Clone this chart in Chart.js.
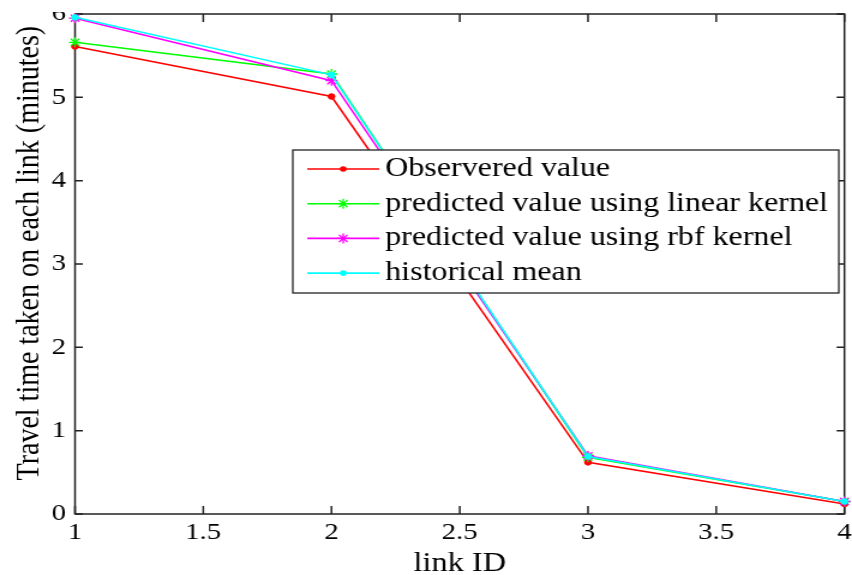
<!DOCTYPE html>
<html>
<head>
<meta charset="utf-8">
<script src="https://cdn.jsdelivr.net/npm/chart.js@4.4.1/dist/chart.umd.min.js"></script>
<style>
html, body { margin: 0; padding: 0; background: #fff; }
#frame { position: relative; width: 852px; height: 575px; overflow: hidden; background: #fff; }
/* the original figure is stretched sideways, so the canvas is too */
#stretch { position: absolute; left: 0; top: -11px; width: 710px; height: 586px; transform: scaleX(1.2); transform-origin: 0 0; }
/* the source image is cropped just above the plot box */
#crop { position: absolute; left: 0; top: 0; width: 73px; height: 12px; background: #fff; }
#fontwarm { position: absolute; left: -999px; top: 0; font-family: "Liberation Serif"; font-size: 24px; }
</style>
</head>
<body>
<div id="frame"><div id="stretch"><canvas id="lineChart" width="710" height="586"></canvas></div><div id="crop"></div></div>
<div id="fontwarm">link ID 0123456789.</div>
<script>
// data
const linkIds = [1, 2, 3, 4];
const observed = [5.61, 5.01, 0.62, 0.12];
const predLinear = [5.66, 5.28, 0.68, 0.15];
const predRbf = [5.95, 5.20, 0.70, 0.15];
const histMean = [5.96, 5.27, 0.69, 0.15];
const seriesNames = ['Observered value', 'predicted value using linear kernel', 'predicted value using rbf kernel', 'historical mean'];
const seriesColors = ['#ff0000', '#00ff00', '#ff00ff', '#00ffff'];
const seriesMarkers = ['circle', 'star', 'star', 'circle'];
const xTitle = 'link ID';
const yTitle = 'Travel time taken on each link (minutes)';

const FONT = 'Liberation Serif';

function toPoints(vals) {
    return linkIds.map(function (id, i) { return { x: id, y: vals[i] }; });
}

let allSeries = [observed, predLinear, predRbf, histMean];
let datasets = [];
for (let i = 0; i < allSeries.length; i++) {
    let star = seriesMarkers[i] == 'star';
    datasets.push({
        label: seriesNames[i],
        data: toPoints(allSeries[i]),
        borderColor: seriesColors[i],
        backgroundColor: seriesColors[i],
        pointBorderColor: seriesColors[i],
        pointBackgroundColor: seriesColors[i],
        pointStyle: seriesMarkers[i],
        pointRadius: star ? 5 : 2.8,
        pointBorderWidth: star ? 1.3 : 1,
        borderWidth: 1.6,
        tension: 0,
        fill: false,
        clip: false,
        order: allSeries.length - i
    });
}

// box round the axes with inward ticks on all four sides, plus the y title
const axesBox = {
    id: 'axesBox',
    beforeDatasetsDraw(chart) {
        const ctx = chart.ctx;
        const a = chart.chartArea;
        const xs = chart.scales.x, ys = chart.scales.y;
        ctx.save();
        ctx.strokeStyle = '#222';
        ctx.lineWidth = 1.5;
        ctx.strokeRect(a.left, a.top, a.right - a.left, a.bottom - a.top);
        ctx.beginPath();
        xs.ticks.forEach(function (t) {
            let px = xs.getPixelForValue(t.value);
            ctx.moveTo(px, a.bottom); ctx.lineTo(px, a.bottom - 8);
            ctx.moveTo(px, a.top); ctx.lineTo(px, a.top + 8);
        });
        ys.ticks.forEach(function (t) {
            let py = ys.getPixelForValue(t.value);
            ctx.moveTo(a.left, py); ctx.lineTo(a.left + 6.5, py);
            ctx.moveTo(a.right, py); ctx.lineTo(a.right - 6.5, py);
        });
        ctx.stroke();

        // y title sits a bit above the middle of the axis in the original
        ctx.translate(25, ys.getPixelForValue(3.13));
        ctx.rotate(-Math.PI / 2);
        ctx.fillStyle = '#000';
        ctx.font = '28px ' + FONT;
        ctx.textAlign = 'center';
        ctx.textBaseline = 'middle';
        ctx.fillText(yTitle, 0, 0);
        ctx.restore();
    }
};

function drawMarker(ctx, style, color, x, y) {
    ctx.strokeStyle = color;
    ctx.fillStyle = color;
    if (style == 'star') {
        let r = 5;
        ctx.lineWidth = 1.3;
        ctx.beginPath();
        ctx.moveTo(x - r, y); ctx.lineTo(x + r, y);
        ctx.moveTo(x, y - r); ctx.lineTo(x, y + r);
        let d = r * 0.707;
        ctx.moveTo(x - d, y - d); ctx.lineTo(x + d, y + d);
        ctx.moveTo(x - d, y + d); ctx.lineTo(x + d, y - d);
        ctx.stroke();
    } else {
        ctx.beginPath();
        ctx.arc(x, y, 2.8, 0, Math.PI * 2);
        ctx.fill();
    }
}

// matlab style legend inside the plot
const legendBox = {
    id: 'legendBox',
    afterDraw(chart) {
        const ctx = chart.ctx;
        const bx = 244, by = 161, bw = 455, bh = 143;
        ctx.save();
        ctx.fillStyle = '#fff';
        ctx.fillRect(bx, by, bw, bh);
        ctx.strokeStyle = '#222';
        ctx.lineWidth = 1.3;
        ctx.strokeRect(bx, by, bw, bh);
        chart.data.datasets.forEach(function (ds, i) {
            let y = 180 + i * 34.7;
            ctx.strokeStyle = ds.borderColor;
            ctx.lineWidth = 1.6;
            ctx.beginPath();
            ctx.moveTo(256, y); ctx.lineTo(316, y);
            ctx.stroke();
            drawMarker(ctx, ds.pointStyle, ds.borderColor, 286, y);
            ctx.fillStyle = '#000';
            ctx.font = '26.7px ' + FONT;
            ctx.textBaseline = 'middle';
            ctx.textAlign = 'left';
            ctx.fillText(ds.label, 321, y);
        });
        ctx.restore();
    }
};

function makeChart() {
    var ctx = document.getElementById('lineChart');
    var lineChart = new Chart(ctx, {
        type: 'line',
        data: { datasets: datasets },
        plugins: [axesBox, legendBox],
        options: {
            responsive: false,
            animation: false,
            devicePixelRatio: 1,
            layout: { padding: { top: 25, right: 5, left: 0, bottom: 0 } },
            plugins: { legend: { display: false }, tooltip: { enabled: false } },
            scales: {
                x: {
                    type: 'linear',
                    min: 1,
                    max: 4,
                    ticks: {
                        stepSize: 0.5, padding: 4, color: '#000', maxRotation: 0, autoSkip: false,
                        font: { family: FONT, size: 24 },
                        callback: function (v) { return String(v); }
                    },
                    grid: { display: false, drawTicks: false, tickLength: 0 },
                    border: { display: false },
                    title: { display: true, text: xTitle, color: '#000', padding: { top: 0, bottom: -5 }, font: { family: FONT, size: 27 } },
                    afterFit: function (s) { s.height = 61; s.paddingLeft = 0; s.paddingRight = 0; }
                },
                y: {
                    min: 0,
                    max: 6,
                    ticks: { stepSize: 1, padding: 7.5, color: '#000', font: { family: FONT, size: 24 } },
                    grid: { display: false, drawTicks: false, tickLength: 0 },
                    border: { display: false },
                    title: { display: false },
                    afterFit: function (s) { s.width = 62.5; s.paddingTop = 0; s.paddingBottom = 0; }
                }
            }
        }
    });
}

if (document.fonts && document.fonts.load) {
    document.fonts.load('24px "Liberation Serif"').then(makeChart, makeChart);
} else {
    makeChart();
}
</script>
</body>
</html>
